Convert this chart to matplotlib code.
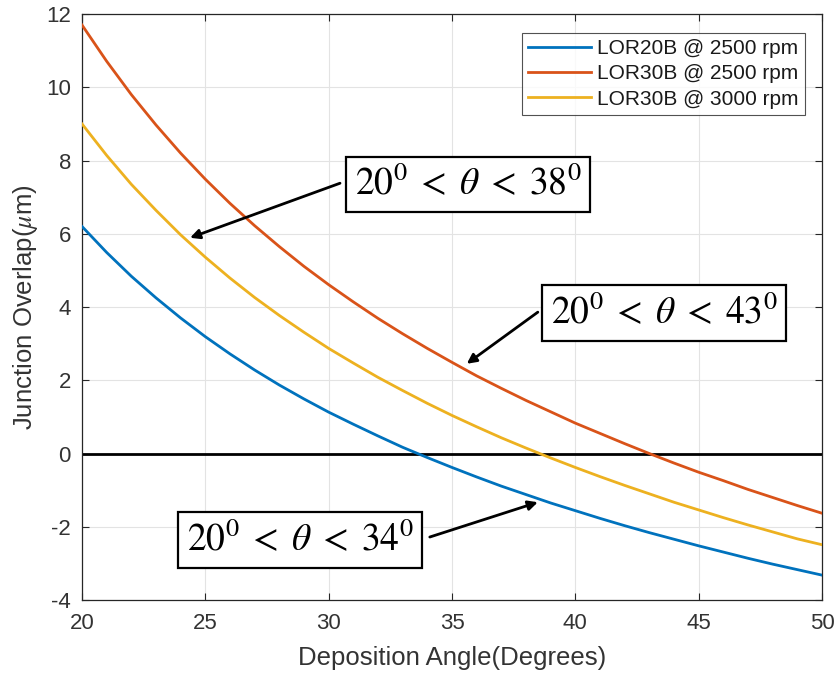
import matplotlib
matplotlib.use("Agg")
import matplotlib.pyplot as plt

# Deposition angle (degrees)
angle = list(range(20, 51))

# Junction overlap (um) for each resist / spin speed
lor20b_2500 = [6.20, 5.49, 4.84, 4.25, 3.70, 3.19, 2.72, 2.28, 1.87, 1.49,
               1.13, 0.80, 0.48, 0.17, -0.11, -0.38, -0.64, -0.89, -1.12, -1.35,
               -1.56, -1.77, -1.97, -2.16, -2.34, -2.52, -2.69, -2.86, -3.02, -3.17,
               -3.32]
lor30b_2500 = [11.70, 10.71, 9.80, 8.97, 8.20, 7.49, 6.83, 6.22, 5.65, 5.11,
               4.61, 4.14, 3.69, 3.27, 2.87, 2.49, 2.12, 1.78, 1.45, 1.14,
               0.83, 0.55, 0.27, 0.00, -0.26, -0.51, -0.74, -0.98, -1.20, -1.42,
               -1.63]
lor30b_3000 = [9.00, 8.14, 7.35, 6.64, 5.97, 5.36, 4.79, 4.26, 3.77, 3.31,
               2.87, 2.47, 2.08, 1.72, 1.37, 1.04, 0.73, 0.43, 0.15, -0.12,
               -0.38, -0.63, -0.87, -1.10, -1.33, -1.54, -1.75, -1.95, -2.14, -2.33,
               -2.49]

series_labels = ["LOR20B @ 2500 rpm", "LOR30B @ 2500 rpm", "LOR30B @ 3000 rpm"]
series_colors = ["#0072BD", "#D95319", "#EDB120"]

x_ticks = [20, 25, 30, 35, 40, 45, 50]
y_ticks = [-4, -2, 0, 2, 4, 6, 8, 10, 12]

plt.rcParams["font.family"] = ["Liberation Sans", "DejaVu Sans"]
plt.rcParams["mathtext.fontset"] = "stix"
plt.rcParams["axes.unicode_minus"] = False

text_col = "#333333"

fig = plt.figure(figsize=(8.35, 6.77), dpi=100)
ax = fig.add_axes([0.0982, 0.1137, 0.8862, 0.8656])

for ys, lab, col in zip([lor20b_2500, lor30b_2500, lor30b_3000], series_labels, series_colors):
    ax.plot(angle, ys, color=col, lw=2.0, label=lab, zorder=3)

ax.axhline(0, color="black", lw=2.0, zorder=2)

ax.set_xlim(20, 50)
ax.set_ylim(-4, 12)
ax.set_xticks(x_ticks)
ax.set_yticks(y_ticks)
ax.grid(True, color="#e3e3e3", lw=0.8)
ax.set_axisbelow(True)
ax.tick_params(direction="in", top=True, right=True, labelsize=16,
               color="#262626", length=5, width=0.8, labelcolor=text_col)
ax.tick_params(axis="x", pad=9)
ax.tick_params(axis="y", pad=8)
for sp in ax.spines.values():
    sp.set_color("#262626")
    sp.set_linewidth(0.9)

ax.set_xlabel("Deposition Angle(Degrees)", fontsize=18.5, color=text_col, labelpad=9)
ax.set_ylabel(r"Junction Overlap($\mu$m)", fontsize=18.5, color=text_col, labelpad=4)

leg = ax.legend(loc="upper right", fontsize=15, frameon=True, fancybox=False,
                handlelength=3.0, borderpad=0.3, labelspacing=0.3,
                handletextpad=0.3, borderaxespad=0, bbox_to_anchor=(0.977, 0.968))
leg.get_frame().set_edgecolor("#262626")
leg.get_frame().set_linewidth(0.8)
for t in leg.get_texts():
    t.set_color("#1a1a1a")

box = dict(boxstyle="square,pad=0.24", fc="white", ec="black", lw=1.6)
arrow = dict(arrowstyle="-|>", color="black", lw=2.0, mutation_scale=14,
             shrinkA=0, shrinkB=0)

ax.text(35.65, 7.34, r"$20^0\;<\;\theta\;<\;38^0$", fontsize=27, ha="center",
        va="center", bbox=box, zorder=5)
ax.annotate("", xy=(24.38, 5.89), xytext=(30.46, 7.38), arrowprops=arrow, zorder=4)

ax.text(43.59, 3.84, r"$20^0\;<\;\theta\;<\;43^0$", fontsize=27, ha="center",
        va="center", bbox=box, zorder=5)
ax.annotate("", xy=(35.6, 2.45), xytext=(38.48, 3.86), arrowprops=arrow, zorder=4)

ax.text(28.84, -2.36, r"$20^0\;<\;\theta\;<\;34^0$", fontsize=27, ha="center",
        va="center", bbox=box, zorder=5)
ax.annotate("", xy=(38.48, -1.33), xytext=(34.1, -2.28), arrowprops=arrow, zorder=4)

fig.savefig("out.png", dpi=100)
